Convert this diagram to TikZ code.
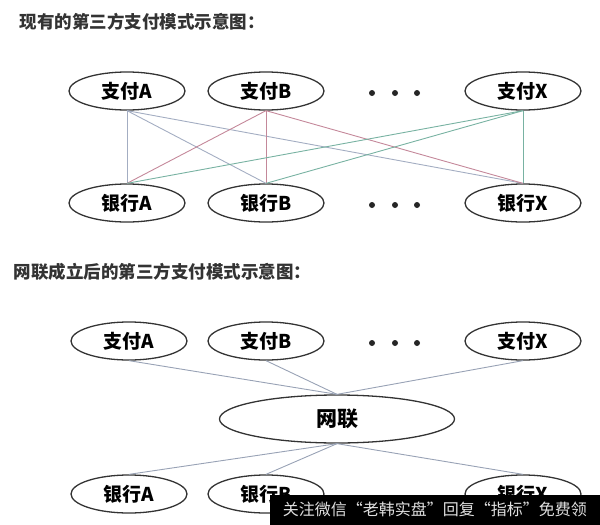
\documentclass[tikz,border=0pt]{standalone}
\usepackage{fontspec}
\setmainfont{Noto Sans CJK SC}
\usetikzlibrary{shapes.geometric}
\definecolor{cline}{HTML}{333333}
\definecolor{linea}{HTML}{A3ADC2}
\definecolor{lineb}{HTML}{C4889A}
\definecolor{linex}{HTML}{78B2A2}
\definecolor{linew}{HTML}{98A2B5}
\tikzset{
  every picture/.style={x=1pt, y=-1pt},
  oval/.style={ellipse, draw=cline, line width=1.3pt, minimum width=116pt, minimum height=38pt, inner sep=0pt, font=\fontsize{19}{22}\selectfont\bfseries},
  link/.style={line width=0.9pt, draw=#1},
  link/.default=linew,
  title/.style={font=\fontsize{17.5}{20}\selectfont\bfseries, anchor=west, text=black!80},
  dot/.style={circle, fill=black!85, inner sep=0pt, minimum size=6pt},
}

\begin{document}
\begin{tikzpicture}
  \useasboundingbox (0,0) rectangle (600,525);
  % existing model
  \node[title] (t1) at (16,22) {现有的第三方支付模式示意图：};
  \foreach \n/\x/\l in {a/127/A, b/266/B, x/523/X} {
    \node[oval] (p\n) at (\x,91) {支付\l};
    \node[oval] (b\n) at (\x,203) {银行\l};
  }
  \foreach \x [count=\i] in {372,395,417} {
    \node[dot] (d\i) at (\x,93) {};
    \node[dot] (e\i) at (\x,205) {};
  }
  \foreach \s/\c in {a/linea, b/lineb, x/linex}
    \foreach \t in {a,b,x}
      \draw[link=\c] (p\s.south) -- (b\t.north);
  % after wanglian
  \node[title] (t2) at (10,272) {网联成立后的第三方支付模式示意图：};
  \node[oval, minimum width=235pt, minimum height=48pt, font=\fontsize{21}{24}\selectfont\bfseries] (wl) at (337,419) {网联};
  \foreach \n/\x/\l in {a/129/A, b/266/B, x/523/X} {
    \node[oval] (q\n) at (\x,341) {支付\l};
    \node[oval] (c\n) at (\x,494) {银行\l};
    \draw[link] (q\n.south) -- (wl.north);
    \draw[link] (wl.south) -- (c\n.north);
  }
  \foreach \x [count=\i] in {372,395,417}
    \node[dot] (f\i) at (\x,343) {};
  % overlay
  \node[fill=black, text=white!88!black, anchor=south east, minimum width=330pt, minimum height=30pt, inner sep=0pt, font=\fontsize{16}{18}\selectfont] (wm) at (600,525) {关注微信“老韩实盘”回复“指标”免费领};
\end{tikzpicture}
\end{document}
